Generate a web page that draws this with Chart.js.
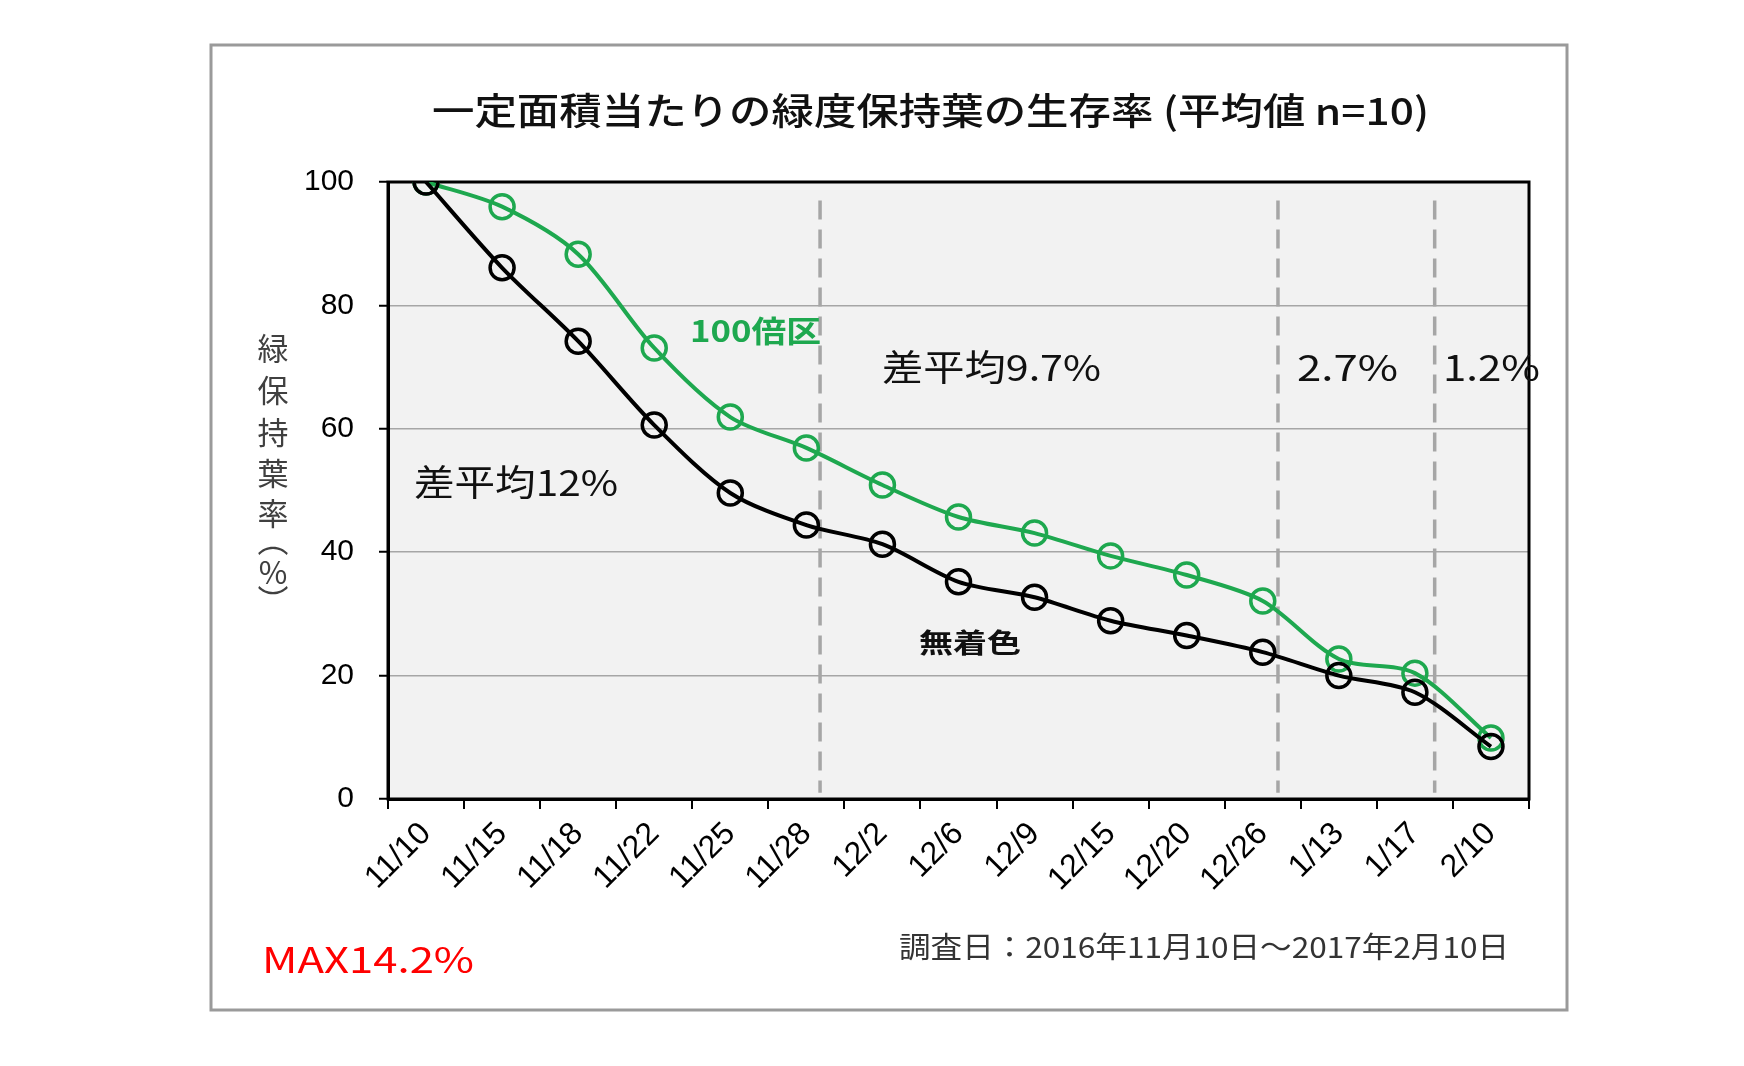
<!DOCTYPE html>
<html lang="ja">
<head>
  <meta charset="UTF-8" />
  <title>一定面積当たりの緑度保持葉の生存率</title>
  <script src="https://cdn.jsdelivr.net/npm/chart.js"></script>
  <style>
    body { margin: 0; background: #fff; }
    canvas { display: block; }
  </style>
</head>
<body>
  <canvas id="survivalChart" width="1744" height="1066"></canvas>

  <script>
    // 調査日ラベル
    const dates = ['11/10', '11/15', '11/18', '11/22', '11/25', '11/28', '12/2', '12/6',
                   '12/9', '12/15', '12/20', '12/26', '1/13', '1/17', '2/10'];
    // 100倍区 (緑)
    const green100 = [100, 96, 88.3, 73.1, 61.9, 56.9, 50.9, 45.7, 43.1, 39.4, 36.3, 32.1, 22.7, 20.4, 9.9];
    // 無着色 (黒)
    const plain = [100, 86.1, 74.2, 60.6, 49.6, 44.4, 41.3, 35.2, 32.7, 28.9, 26.5, 23.8, 20.0, 17.3, 8.5];
    // 区切り線 (カテゴリ位置)
    const dividers = [5.18, 11.2, 13.26];
    const yTicks = [0, 20, 40, 60, 80, 100];

    const GREEN = '#1ea84f';
    const JP = '"Noto Sans CJK JP", sans-serif';

    // 横に引き伸ばして幅に合わせる
    function drawFit(ctx, text, x0, x1, y, font, color) {
      ctx.save();
      ctx.font = font;
      ctx.fillStyle = color;
      ctx.textAlign = 'left';
      ctx.textBaseline = 'middle';
      const w = ctx.measureText(text).width;
      ctx.translate(x0, y);
      ctx.scale((x1 - x0) / w, 1);
      ctx.fillText(text, 0, 0);
      ctx.restore();
    }

    const decor = {
      id: 'decor',
      beforeDraw(chart) {
        const { ctx, chartArea: a } = chart;
        ctx.save();
        ctx.fillStyle = '#fff';
        ctx.fillRect(0, 0, chart.width, chart.height);
        ctx.fillStyle = '#f2f2f2';
        ctx.fillRect(a.left, a.top, a.right - a.left, a.bottom - a.top);
        ctx.restore();
      },
      beforeDatasetsDraw(chart) {
        const { ctx, chartArea: a, scales: { x, y } } = chart;
        const step = x.getPixelForValue(1) - x.getPixelForValue(0);
        ctx.save();
        // 区切りの破線
        ctx.strokeStyle = '#a6a6a6';
        ctx.lineWidth = 3.5;
        ctx.setLineDash([19, 10]);
        dividers.forEach(d => {
          const px = x.getPixelForValue(0) + d * step;
          ctx.beginPath();
          ctx.moveTo(px, y.getPixelForValue(97));
          ctx.lineTo(px, y.getPixelForValue(1));
          ctx.stroke();
        });
        ctx.setLineDash([]);
        // 枠
        ctx.strokeStyle = '#000';
        ctx.lineWidth = 3;
        ctx.strokeRect(a.left, a.top, a.right - a.left, a.bottom - a.top);
        ctx.restore();
      },
      afterDraw(chart) {
        const { ctx } = chart;
        ctx.save();
        // 外枠
        ctx.strokeStyle = '#9a9a9a';
        ctx.lineWidth = 3;
        ctx.strokeRect(211, 45, 1356, 965);
        ctx.restore();

        drawFit(ctx, '一定面積当たりの緑度保持葉の生存率 (平均値 n=10)', 432, 1429, 111, '500 37px ' + JP, '#111');
        drawFit(ctx, '100倍区', 690, 821, 331, 'bold 30px ' + JP, GREEN);
        drawFit(ctx, '差平均9.7%', 882, 1101, 367, '36px ' + JP, '#111');
        drawFit(ctx, '2.7%', 1297, 1398, 367, '36px ' + JP, '#111');
        drawFit(ctx, '1.2%', 1443, 1540, 367, '36px ' + JP, '#111');
        drawFit(ctx, '差平均12%', 414, 618, 482, '36px ' + JP, '#111');
        drawFit(ctx, '無着色', 919, 1021, 643, 'bold 27px ' + JP, '#111');
        drawFit(ctx, 'MAX14.2%', 262, 474, 959, '36px ' + JP, '#ff0000');
        drawFit(ctx, '調査日：2016年11月10日～2017年2月10日', 899, 1509, 947, '29px ' + JP, '#333');

        // 縦書きの軸タイトル
        const chars = ['緑', '保', '持', '葉', '率', '︵', '%', '︶'];
        const ys = [348, 390, 432, 473, 513, 540, 572, 600];
        ctx.save();
        ctx.font = '31px ' + JP;
        ctx.fillStyle = '#404040';
        ctx.textAlign = 'center';
        ctx.textBaseline = 'middle';
        chars.forEach((c, i) => ctx.fillText(c, 273, ys[i]));
        ctx.restore();
      }
    };

    const ctx = document.getElementById('survivalChart').getContext('2d');
    new Chart(ctx, {
      type: 'line',
      data: {
        labels: dates,
        datasets: [
          {
            label: '無着色',
            data: plain,
            borderColor: '#000',
            borderWidth: 4,
            pointRadius: 12,
            pointBorderWidth: 3.5,
            pointBorderColor: '#000',
            pointBackgroundColor: 'rgba(0,0,0,0)',
            tension: 0.3,
          },
          {
            label: '100倍区',
            data: green100,
            borderColor: GREEN,
            borderWidth: 4,
            pointRadius: 12,
            pointBorderWidth: 3.5,
            pointBorderColor: GREEN,
            pointBackgroundColor: 'rgba(0,0,0,0)',
            tension: 0.3,
          },
        ],
      },
      options: {
        responsive: false,
        animation: false,
        layout: { padding: { left: 0, top: 182, right: 215, bottom: 0 } },
        plugins: {
          legend: { display: false },
          title: { display: false },
          tooltip: { enabled: false },
        },
        scales: {
          x: {
            offset: true,
            afterFit(scale) { scale.height = 267; },
            grid: {
              offset: true,
              drawOnChartArea: false,
              tickLength: 10,
              tickColor: '#000',
              lineWidth: 2,
            },
            border: { display: true, color: '#000', width: 3 },
            ticks: {
              minRotation: 45,
              maxRotation: 45,
              padding: 6,
              color: '#000',
              font: { family: '"Liberation Sans", Arial, sans-serif', size: 32 },
            },
          },
          y: {
            min: 0,
            max: 100,
            afterFit(scale) { scale.width = 388; },
            afterBuildTicks(scale) { scale.ticks = yTicks.map(v => ({ value: v })); },
            grid: {
              color: '#a6a6a6',
              lineWidth: 1.5,
              tickLength: 9,
              tickColor: '#000',
              tickWidth: 2,
            },
            border: { display: true, color: '#000', width: 3 },
            ticks: {
              padding: 25,
              color: '#000',
              font: { family: '"Liberation Sans", Arial, sans-serif', size: 30 },
            },
          },
        },
      },
      plugins: [decor],
    });
  </script>
</body>
</html>
